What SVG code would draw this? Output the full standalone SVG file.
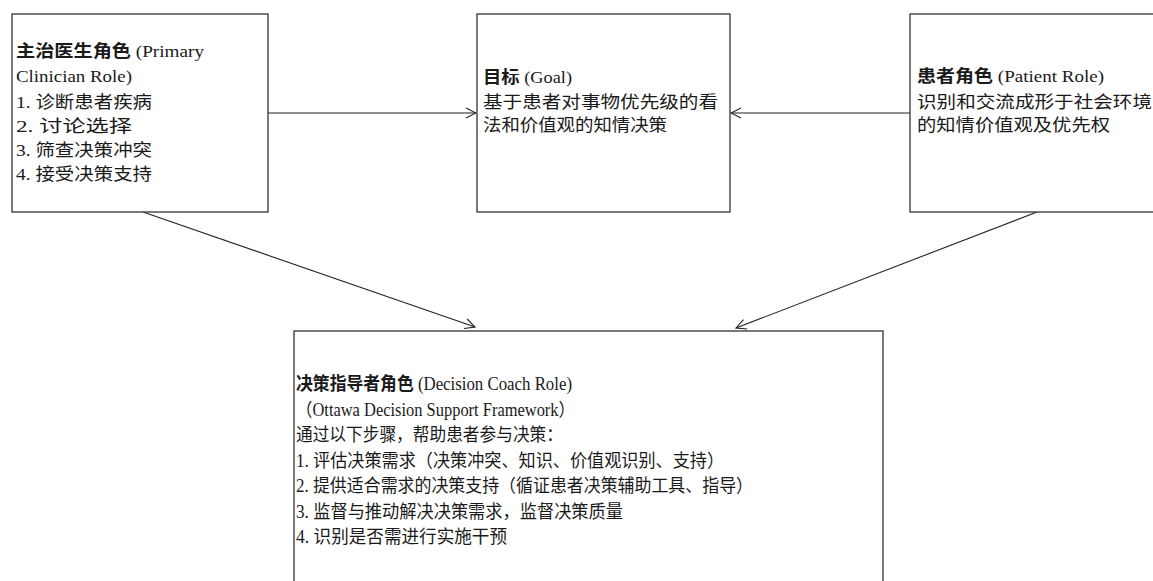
<svg xmlns="http://www.w3.org/2000/svg" width="1153" height="581" viewBox="0 0 1153 581">
<style>
.box{fill:#fff;stroke:#333;stroke-width:1.3}
.t{font-family:"Liberation Serif","Noto Sans CJK SC",serif;font-size:17.5px;fill:#1a1a1a}
.tb{font-size:18px}
.b{font-family:"Noto Sans CJK SC",sans-serif;font-weight:bold}
.c{fill:none;stroke:#222;stroke-width:1.1}
</style>
<defs>
<marker id="ah" markerWidth="12" markerHeight="12" refX="11" refY="6" orient="auto" markerUnits="userSpaceOnUse">
<path d="M1,1 L11,6 L1,11" fill="none" stroke="#222" stroke-width="1.1"/>
</marker>
</defs>
<rect width="1153" height="581" fill="#fff"/>
<g id="connectors">
<line class="c" x1="268" y1="113" x2="476" y2="113" marker-end="url(#ah)"/>
<line class="c" x1="910" y1="113" x2="731" y2="113" marker-end="url(#ah)"/>
<line class="c" x1="143" y1="212" x2="475" y2="327" marker-end="url(#ah)"/>
<line class="c" x1="1037" y1="212" x2="736" y2="328" marker-end="url(#ah)"/>
</g>
<g id="clinician">
<rect class="box" x="12" y="14" width="256" height="198"/>
<text class="t" x="16" y="57" textLength="188" lengthAdjust="spacingAndGlyphs"><tspan class="b">主治医生角色</tspan> (Primary</text>
<text class="t" x="16" y="82" textLength="116" lengthAdjust="spacingAndGlyphs">Clinician Role)</text>
<text class="t" x="16" y="108" textLength="136" lengthAdjust="spacingAndGlyphs">1. 诊断患者疾病</text>
<text class="t" x="16" y="132" textLength="116" lengthAdjust="spacingAndGlyphs">2. 讨论选择</text>
<text class="t" x="16" y="156" textLength="136" lengthAdjust="spacingAndGlyphs">3. 筛查决策冲突</text>
<text class="t" x="16" y="180" textLength="136" lengthAdjust="spacingAndGlyphs">4. 接受决策支持</text>
</g>
<g id="goal">
<rect class="box" x="477" y="14" width="253" height="198"/>
<text class="t" x="483" y="83" textLength="89" lengthAdjust="spacingAndGlyphs"><tspan class="b">目标</tspan> (Goal)</text>
<text class="t" x="483" y="108" textLength="235" lengthAdjust="spacingAndGlyphs">基于患者对事物优先级的看</text>
<text class="t" x="483" y="131" textLength="184" lengthAdjust="spacingAndGlyphs">法和价值观的知情决策</text>
</g>
<g id="patient">
<rect class="box" x="910" y="14" width="260" height="198"/>
<text class="t" x="917" y="82" textLength="187" lengthAdjust="spacingAndGlyphs"><tspan class="b">患者角色</tspan> (Patient Role)</text>
<text class="t" x="917" y="108" textLength="235" lengthAdjust="spacingAndGlyphs">识别和交流成形于社会环境</text>
<text class="t" x="917" y="131" textLength="193" lengthAdjust="spacingAndGlyphs">的知情价值观及优先权</text>
</g>
<g id="coach">
<rect class="box" x="294" y="331" width="589" height="270"/>
<text class="t tb" x="296" y="390" textLength="276" lengthAdjust="spacingAndGlyphs"><tspan class="b">决策指导者角色</tspan> (Decision Coach Role)</text>
<text class="t tb" x="296" y="416" textLength="279" lengthAdjust="spacingAndGlyphs">（Ottawa Decision Support Framework）</text>
<text class="t tb" x="296" y="441" textLength="267" lengthAdjust="spacingAndGlyphs">通过以下步骤，帮助患者参与决策：</text>
<text class="t tb" x="296" y="467" textLength="428" lengthAdjust="spacingAndGlyphs">1. 评估决策需求（决策冲突、知识、价值观识别、支持）</text>
<text class="t tb" x="296" y="492" textLength="457" lengthAdjust="spacingAndGlyphs">2. 提供适合需求的决策支持（循证患者决策辅助工具、指导）</text>
<text class="t tb" x="296" y="518" textLength="327" lengthAdjust="spacingAndGlyphs">3. 监督与推动解决决策需求，监督决策质量</text>
<text class="t tb" x="296" y="543" textLength="211" lengthAdjust="spacingAndGlyphs">4. 识别是否需进行实施干预</text>
</g>
</svg>
